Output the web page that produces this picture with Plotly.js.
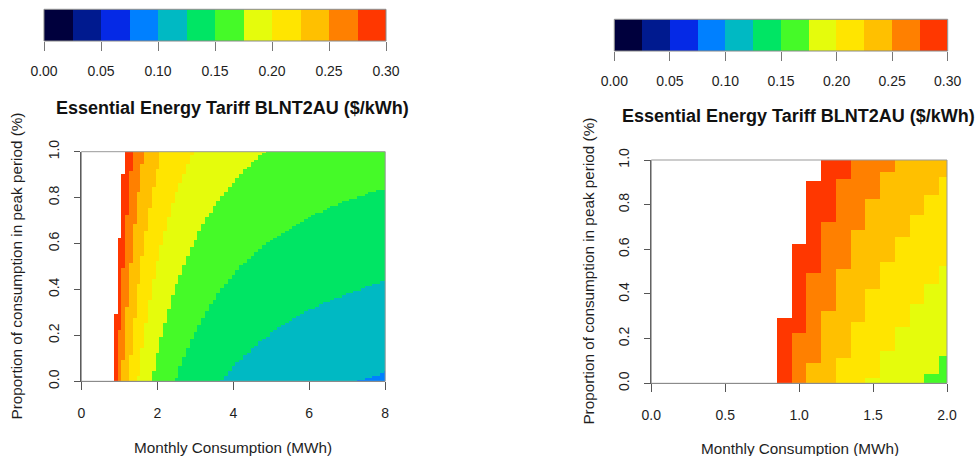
<!DOCTYPE html>
<html><head><meta charset="utf-8">
<script src="https://cdn.plot.ly/plotly-3.0.1.min.js"></script>
<style>html,body{margin:0;padding:0;background:#fff}#chart{width:977px;height:456px}</style>
</head><body><div id="chart"></div>
<script>
// ---- grid (cell centres) ----
const consumption = [0.0,0.1,0.2,0.3,0.4,0.5,0.6,0.7,0.8,0.9,1.0,1.1,1.2,1.3,1.4,1.5,1.6,1.7,1.8,1.9,2.0,
  2.1,2.2,2.3,2.4,2.5,2.6,2.7,2.8,2.9,3.0,3.1,3.2,3.3,3.4,3.5,3.6,3.7,3.8,3.9,4.0,
  4.1,4.2,4.3,4.4,4.5,4.6,4.7,4.8,4.9,5.0,5.1,5.2,5.3,5.4,5.5,5.6,5.7,5.8,5.9,6.0,
  6.1,6.2,6.3,6.4,6.5,6.6,6.7,6.8,6.9,7.0,7.1,7.2,7.3,7.4,7.5,7.6,7.7,7.8,7.9,8.0];
const peakShare = [0.00,0.01,0.02,0.03,0.04,0.05,0.06,0.07,0.08,0.09,0.10,0.11,0.12,0.13,0.14,0.15,0.16,0.17,0.18,0.19,
  0.20,0.21,0.22,0.23,0.24,0.25,0.26,0.27,0.28,0.29,0.30,0.31,0.32,0.33,0.34,0.35,0.36,0.37,0.38,0.39,
  0.40,0.41,0.42,0.43,0.44,0.45,0.46,0.47,0.48,0.49,0.50,0.51,0.52,0.53,0.54,0.55,0.56,0.57,0.58,0.59,
  0.60,0.61,0.62,0.63,0.64,0.65,0.66,0.67,0.68,0.69,0.70,0.71,0.72,0.73,0.74,0.75,0.76,0.77,0.78,0.79,
  0.80,0.81,0.82,0.83,0.84,0.85,0.86,0.87,0.88,0.89,0.90,0.91,0.92,0.93,0.94,0.95,0.96,0.97,0.98,0.99,1.00];

// ---- colour levels ($/kWh) ----
const levelBreaks = [0,0.025,0.05,0.075,0.1,0.125,0.15,0.175,0.2,0.225,0.25,0.275,0.3];
const levelColors = ['#00003D','#001A8F','#0529E6','#0080FF','#00B9C3','#00E564',
                     '#45FA28','#E5FC0C','#FFE500','#FFC000','#FF8000','#FF3700'];
const barTicks = [0,0.05,0.1,0.15,0.2,0.25,0.3];
const barTickText = ['0.00','0.05','0.10','0.15','0.20','0.25','0.30'];
const leftXTicks = [0,2,4,6,8];
const leftXTickText = ['0','2','4','6','8'];
const rightXTicks = [0,0.5,1,1.5,2];
const rightXTickText = ['0.0','0.5','1.0','1.5','2.0'];
const yTicks = [0,0.2,0.4,0.6,0.8,1.0];
const yTickText = ['0.0','0.2','0.4','0.6','0.8','1.0'];

// ---- band edges: [consumption column, peak share where the cell reaches the threshold]
// columns left of the list are entirely above the threshold, columns right of it entirely below
const edge300 = [[0.9,0.30],[1.0,0.63],[1.1,0.91]];
const edge275 = [[1.0,0.23],[1.1,0.50],[1.2,0.73],[1.3,0.92]];
const edge250 = [[1.1,0.10],[1.2,0.33],[1.3,0.52],[1.4,0.69],[1.5,0.83],[1.6,0.95]];
const edge225 = [[1.3,0.12],[1.4,0.28],[1.5,0.43],[1.6,0.55],[1.7,0.66],[1.8,0.76],[1.9,0.85],[2.0,0.93]];
const edge200 = [[1.5,0.03],[1.6,0.15],[1.7,0.26],[1.8,0.36],[1.9,0.45],[2.0,0.53],[2.1,0.60],[2.2,0.66],
  [2.3,0.72],[2.4,0.78],[2.5,0.83],[2.6,0.87],[2.7,0.91],[2.8,0.95],[2.9,0.99]];
const edge175 = [[1.9,0.05],[2.0,0.13],[2.1,0.20],[2.2,0.26],[2.3,0.32],[2.4,0.38],[2.5,0.43],[2.6,0.47],
  [2.7,0.51],[2.8,0.55],[2.9,0.59],[3.0,0.62],[3.1,0.66],[3.2,0.69],[3.3,0.72],[3.4,0.74],[3.5,0.77],
  [3.6,0.79],[3.7,0.81],[3.8,0.83],[3.9,0.85],[4.0,0.87],[4.1,0.89],[4.2,0.91],[4.3,0.93],[4.4,0.94],
  [4.5,0.96],[4.6,0.97],[4.7,0.99],[4.8,1.00]];
const edge150 = [[2.5,0.02],[2.6,0.07],[2.7,0.11],[2.8,0.15],[2.9,0.19],[3.0,0.22],[3.1,0.25],[3.2,0.28],
  [3.3,0.31],[3.4,0.34],[3.5,0.36],[3.6,0.39],[3.7,0.41],[3.8,0.43],[3.9,0.45],[4.0,0.47],[4.1,0.49],
  [4.2,0.51],[4.3,0.52],[4.4,0.54],[4.5,0.55],[4.6,0.57],[4.7,0.58],[4.8,0.60],[4.9,0.61],[5.0,0.62],
  [5.1,0.63],[5.2,0.64],[5.3,0.65],[5.4,0.66],[5.5,0.67],[5.6,0.68],[5.7,0.69],[5.8,0.70],[5.9,0.71],
  [6.0,0.72],[6.1,0.73],[6.2,0.74],[6.3,0.74],[6.4,0.75],[6.5,0.76],[6.6,0.77],[6.7,0.77],[6.8,0.78],
  [6.9,0.79],[7.0,0.79],[7.1,0.80],[7.2,0.80],[7.3,0.81],[7.4,0.81],[7.5,0.82],[7.6,0.83],[7.7,0.83],
  [7.8,0.84],[7.9,0.84],[8.0,0.84]];
const edge125 = [[3.7,0.01],[3.8,0.03],[3.9,0.05],[4.0,0.07],[4.1,0.09],[4.2,0.10],[4.3,0.12],[4.4,0.13],
  [4.5,0.15],[4.6,0.16],[4.7,0.18],[4.8,0.19],[4.9,0.20],[5.0,0.22],[5.1,0.23],[5.2,0.24],[5.3,0.25],
  [5.4,0.26],[5.5,0.27],[5.6,0.28],[5.7,0.29],[5.8,0.30],[5.9,0.31],[6.0,0.32],[6.1,0.32],[6.2,0.33],
  [6.3,0.34],[6.4,0.35],[6.5,0.35],[6.6,0.36],[6.7,0.37],[6.8,0.37],[6.9,0.38],[7.0,0.39],[7.1,0.39],
  [7.2,0.40],[7.3,0.40],[7.4,0.41],[7.5,0.42],[7.6,0.42],[7.7,0.43],[7.8,0.43],[7.9,0.44],[8.0,0.44]];
const edge100 = [[7.3,0.01],[7.4,0.01],[7.5,0.02],[7.6,0.02],[7.7,0.03],[7.8,0.03],[7.9,0.04],[8.0,0.05]];

const thresholds = [0.300,0.275,0.250,0.225,0.200,0.175,0.150,0.125,0.100];
const thresholdEdges = [edge300,edge275,edge250,edge225,edge200,edge175,edge150,edge125,edge100];

// ---- build the cell grid from the read edges ----
function isBelow(edges, x, p) {
  const first = edges[0][0], last = edges[edges.length - 1][0];
  if (x < first - 1e-6) return false;
  if (x > last + 1e-6) return true;
  for (const [ex, ep] of edges) if (Math.abs(ex - x) < 1e-6) return p < ep - 1e-9;
  return false;
}
function buildZ(xs) {
  return peakShare.map(p => xs.map(x => {
    let lowest = null;
    thresholds.forEach((t, k) => { if (isBelow(thresholdEdges[k], x, p)) lowest = t; });
    return lowest === null ? null : lowest - 0.0125;
  }));
}
const colorscale = [];
levelColors.forEach((c, i) => { colorscale.push([i / 12, c]); colorscale.push([(i + 1) / 12, c]); });
const barMids = levelBreaks.slice(0, -1).map((b, i) => (b + levelBreaks[i + 1]) / 2);

const rightCols = consumption.filter(x => x <= 2.0001);

// ---- geometry (pixels -> paper) ----
const W = 977, H = 456;
const fx = v => v / W, fy = v => 1 - v / H;
const FONT = 'Liberation Sans, Arial, Helvetica, sans-serif';
const TXT = '#1e1e1e';

const hm = (x, y, z, xa, ya) => ({type:'heatmap', x, y, z, xaxis:xa, yaxis:ya, zmin:0, zmax:0.3,
  colorscale, showscale:false, hoverinfo:'skip', zsmooth:false});

const data = [
  hm(consumption, peakShare, buildZ(consumption), 'x', 'y'),
  hm(rightCols, peakShare, buildZ(rightCols), 'x2', 'y2'),
  hm(barMids, [0], [barMids], 'x3', 'y3'),
  hm(barMids, [0], [barMids], 'x4', 'y4')
];

const tickFont = {family:FONT, size:14, color:TXT};
const mainX = (dom, range, tv, tt, ya) => ({domain:dom, range, tickvals:tv, ticktext:tt, anchor:ya,
  ticks:'outside', ticklen:8, tickcolor:'#555', showline:true, linecolor:'#555', linewidth:1,
  showgrid:false, zeroline:false, tickfont:tickFont, ticklabelstandoff:11, fixedrange:true});
const mainY = (dom, xa) => ({domain:dom, range:[0,1], tickvals:yTicks, ticktext:yTickText, anchor:xa,
  tickangle:-90, ticks:'outside', ticklen:6, tickcolor:'#555', showline:true, linecolor:'#555', linewidth:1,
  showgrid:false, zeroline:false, tickfont:tickFont, ticklabelstandoff:10, fixedrange:true});
const barX = (dom, ya) => ({domain:dom, range:[0,0.3], tickvals:barTicks, ticktext:barTickText, anchor:ya,
  ticks:'outside', ticklen:9, tickcolor:'#777', showline:false, showgrid:false, zeroline:false,
  tickfont:tickFont, ticklabelstandoff:8, fixedrange:true});
const barY = (dom, xa) => ({domain:dom, range:[-0.5,0.5], visible:false, anchor:xa, fixedrange:true});

const box = (xr, yr, col) => ({type:'rect', xref:xr, yref:yr, x0:0, x1:1, y0:0, y1:1,
  line:{color:col, width:1}, fillcolor:'rgba(0,0,0,0)', layer:'above'});

const ann = (x, y, text, opts) => Object.assign({xref:'paper', yref:'paper', x:fx(x), y:fy(y), text,
  showarrow:false, xanchor:'center', yanchor:'middle', font:{family:FONT, size:15.3, color:TXT}}, opts || {});

const titleText = '<b>Essential Energy Tariff BLNT2AU ($/kWh)</b>';
const yTitle = 'Proportion of consumption in peak period (%)';
const xTitle = 'Monthly Consumption (MWh)';

const layout = {
  width:W, height:H, margin:{l:0,r:0,t:0,b:0}, paper_bgcolor:'#fff', plot_bgcolor:'#fff', showlegend:false,
  xaxis: mainX([fx(81.4), fx(385.2)], [0,8], leftXTicks, leftXTickText, 'y'),
  yaxis: mainY([fy(381.3), fy(151.7)], 'x'),
  xaxis2: mainX([fx(651.3), fx(947)], [0,2], rightXTicks, rightXTickText, 'y2'),
  yaxis2: mainY([fy(383.3), fy(160)], 'x2'),
  xaxis3: barX([fx(44), fx(386)], 'y3'),
  yaxis3: barY([fy(41), fy(9.3)], 'x3'),
  xaxis4: barX([fx(614.3), fx(947.7)], 'y4'),
  yaxis4: barY([fy(51), fy(19.3)], 'x4'),
  shapes: [box('x domain','y domain','#999'), box('x2 domain','y2 domain','#999'),
           box('x3 domain','y3 domain','#888'), box('x4 domain','y4 domain','#888')],
  annotations: [
    ann(232, 108, titleText, {font:{family:FONT, size:18, color:'#111'}}),
    ann(798, 116, titleText, {font:{family:FONT, size:18, color:'#111'}}),
    ann(233, 447, xTitle), ann(800, 448, xTitle),
    ann(16, 266.5, yTitle, {textangle:-90}), ann(589, 271.6, yTitle, {textangle:-90})
  ]
};

Plotly.newPlot('chart', data, layout, {staticPlot:true, displayModeBar:false});
</script></body></html>
